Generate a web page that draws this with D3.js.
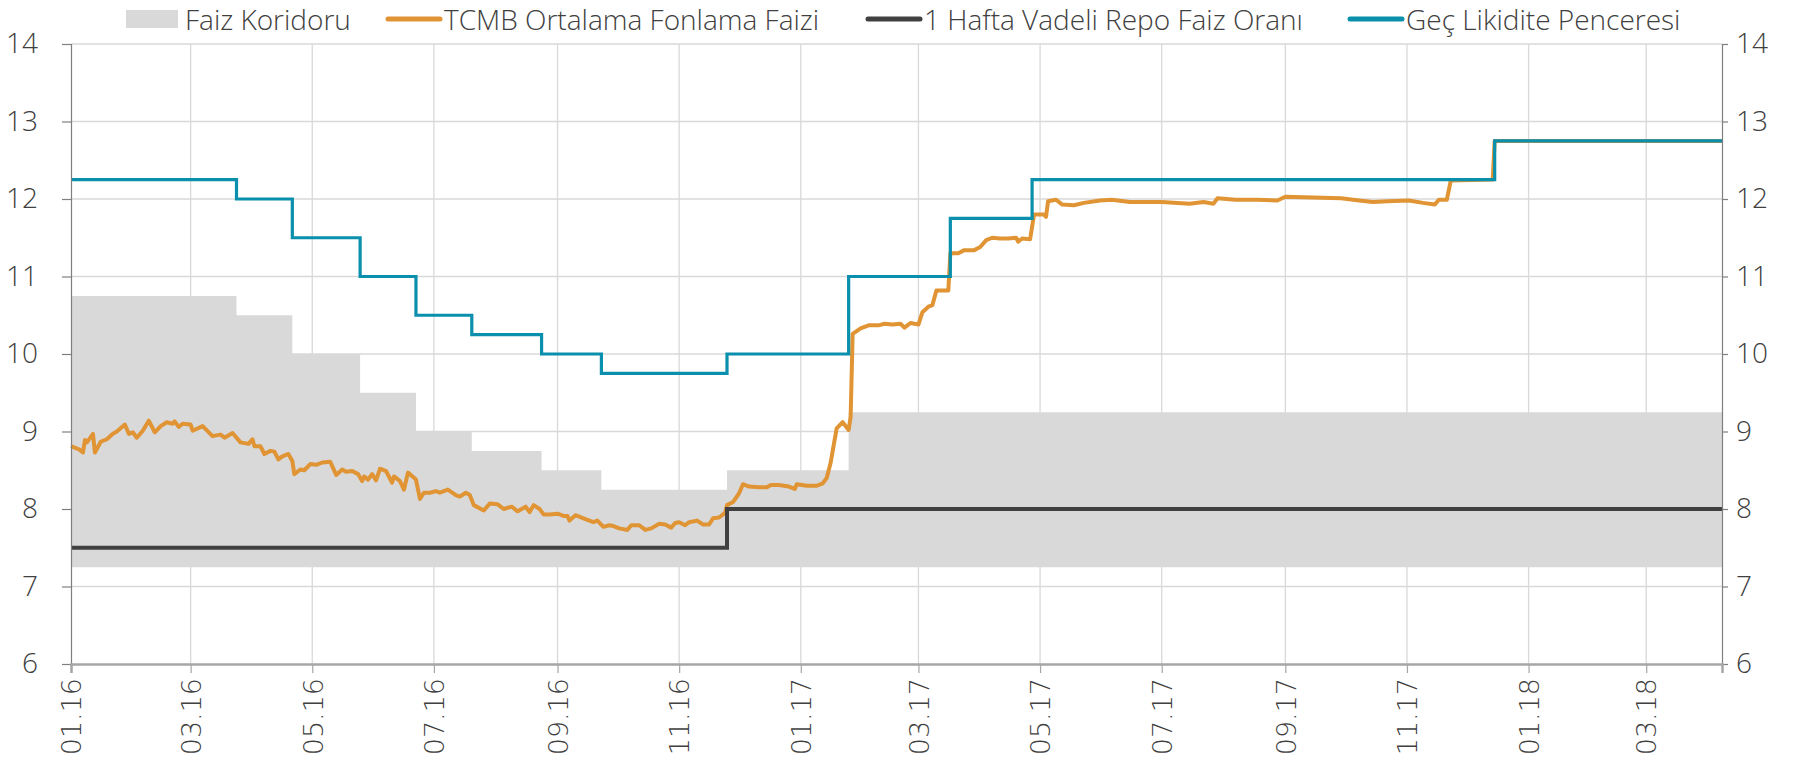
<!DOCTYPE html>
<html>
<meta charset="utf-8">
<style>
  body { margin: 0; background: #fff; }
  .grid line { stroke: #d9d9d9; stroke-width: 1.3; }
  .yaxis text, .legend text { font-family: "Open Sans", sans-serif; font-weight: 300; fill: #404040; }
  .xaxis text { font-family: "DejaVu Sans", sans-serif; font-weight: 200; fill: #404040; }
</style>
<body>
<script src="https://d3js.org/d3.v7.min.js"></script>
<script>
var parseDate = d3.timeParse("%Y-%m-%d");

// PPK karar tarihleri (adim serileri)
var stepDates = ["2016-01-01","2016-03-24","2016-04-21","2016-05-25","2016-06-22","2016-07-20","2016-08-24",
                 "2016-09-23","2016-11-25","2017-01-25","2017-03-17","2017-04-27","2017-12-15","2018-04-08"];
var koridorUst  = [10.75,10.5,10.0,9.5,9.0,8.75,8.5,8.25,8.5,9.25,9.25,9.25,9.25,9.25];
var koridorAlt  = [7.25,7.25,7.25,7.25,7.25,7.25,7.25,7.25,7.25,7.25,7.25,7.25,7.25,7.25];
var repoFaiz    = [7.5,7.5,7.5,7.5,7.5,7.5,7.5,7.5,8.0,8.0,8.0,8.0,8.0,8.0];
var gecLikidite = [12.25,12.0,11.5,11.0,10.5,10.25,10.0,9.75,10.0,11.0,11.75,12.25,12.75,12.75];

// TCMB ortalama fonlama faizi
var fonlama = [
  ["2016-01-01",8.81],["2016-01-05",8.77],["2016-01-07",8.73],["2016-01-08",8.89],["2016-01-09",8.86],["2016-01-12",8.97],
  ["2016-01-13",8.73],["2016-01-16",8.87],["2016-01-19",8.90],["2016-01-22",8.97],["2016-01-24",9.00],["2016-01-28",9.09],
  ["2016-01-30",8.97],["2016-02-01",8.99],["2016-02-03",8.92],["2016-02-06",9.01],["2016-02-09",9.14],["2016-02-12",8.99],
  ["2016-02-15",9.07],["2016-02-18",9.12],["2016-02-21",9.10],["2016-02-22",9.13],["2016-02-24",9.06],["2016-02-26",9.10],
  ["2016-03-01",9.09],["2016-03-02",9.01],["2016-03-07",9.07],["2016-03-12",8.94],["2016-03-16",8.96],["2016-03-18",8.92],
  ["2016-03-22",8.98],["2016-03-26",8.86],["2016-03-30",8.84],["2016-04-01",8.90],["2016-04-02",8.81],["2016-04-05",8.81],
  ["2016-04-07",8.71],["2016-04-10",8.75],["2016-04-12",8.74],["2016-04-14",8.64],["2016-04-16",8.68],["2016-04-19",8.71],
  ["2016-04-21",8.62],["2016-04-22",8.45],["2016-04-25",8.51],["2016-04-27",8.50],["2016-04-30",8.58],["2016-05-03",8.57],
  ["2016-05-06",8.60],["2016-05-10",8.61],["2016-05-13",8.44],["2016-05-16",8.51],["2016-05-18",8.48],["2016-05-21",8.49],
  ["2016-05-24",8.45],["2016-05-26",8.36],["2016-05-27",8.42],["2016-05-29",8.38],["2016-05-31",8.45],["2016-06-02",8.37],
  ["2016-06-04",8.52],["2016-06-07",8.49],["2016-06-10",8.34],["2016-06-11",8.42],["2016-06-14",8.36],["2016-06-16",8.25],
  ["2016-06-18",8.47],["2016-06-22",8.38],["2016-06-24",8.13],["2016-06-26",8.21],["2016-06-29",8.21],["2016-07-02",8.23],
  ["2016-07-04",8.21],["2016-07-08",8.25],["2016-07-12",8.18],["2016-07-14",8.16],["2016-07-17",8.21],["2016-07-19",8.18],
  ["2016-07-21",8.05],["2016-07-26",7.98],["2016-07-29",8.07],["2016-08-02",8.06],["2016-08-05",8.00],["2016-08-09",8.03],
  ["2016-08-12",7.97],["2016-08-16",8.03],["2016-08-18",7.96],["2016-08-20",8.05],["2016-08-23",8.00],["2016-08-25",7.93],
  ["2016-08-28",7.93],["2016-09-01",7.94],["2016-09-04",7.91],["2016-09-06",7.91],["2016-09-07",7.85],["2016-09-10",7.92],
  ["2016-09-14",7.88],["2016-09-19",7.83],["2016-09-21",7.85],["2016-09-24",7.77],["2016-09-27",7.79],["2016-09-29",7.78],
  ["2016-10-02",7.75],["2016-10-06",7.73],["2016-10-08",7.79],["2016-10-12",7.79],["2016-10-15",7.73],["2016-10-18",7.75],
  ["2016-10-22",7.81],["2016-10-25",7.80],["2016-10-28",7.76],["2016-10-30",7.82],["2016-11-01",7.83],["2016-11-04",7.79],
  ["2016-11-06",7.83],["2016-11-10",7.85],["2016-11-13",7.80],["2016-11-16",7.80],["2016-11-18",7.88],["2016-11-21",7.89],
  ["2016-11-24",7.95],["2016-11-25",8.05],["2016-11-28",8.09],["2016-12-01",8.20],["2016-12-03",8.32],["2016-12-06",8.29],
  ["2016-12-11",8.28],["2016-12-15",8.28],["2016-12-17",8.31],["2016-12-21",8.31],["2016-12-26",8.29],["2016-12-29",8.26],
  ["2016-12-30",8.32],["2017-01-04",8.30],["2017-01-09",8.30],["2017-01-12",8.33],["2017-01-14",8.40],["2017-01-16",8.60],
  ["2017-01-17",8.75],["2017-01-19",9.04],["2017-01-22",9.12],["2017-01-25",9.02],["2017-01-26",9.19],["2017-01-27",10.26],
  ["2017-01-31",10.33],["2017-02-04",10.37],["2017-02-09",10.37],["2017-02-12",10.39],["2017-02-16",10.38],["2017-02-20",10.39],
  ["2017-02-22",10.34],["2017-02-25",10.40],["2017-03-01",10.38],["2017-03-03",10.54],["2017-03-06",10.61],["2017-03-08",10.63],
  ["2017-03-10",10.82],["2017-03-13",10.82],["2017-03-16",10.82],["2017-03-17",11.30],["2017-03-21",11.30],["2017-03-24",11.34],
  ["2017-03-29",11.34],["2017-04-01",11.38],["2017-04-04",11.47],["2017-04-07",11.50],["2017-04-11",11.49],["2017-04-15",11.49],
  ["2017-04-19",11.50],["2017-04-20",11.45],["2017-04-22",11.49],["2017-04-26",11.48],["2017-04-28",11.80],["2017-05-03",11.80],
  ["2017-05-04",11.77],["2017-05-05",11.97],["2017-05-09",11.99],["2017-05-12",11.93],["2017-05-18",11.92],["2017-05-23",11.95],
  ["2017-05-31",11.98],["2017-06-06",11.99],["2017-06-15",11.96],["2017-07-01",11.96],["2017-07-15",11.94],["2017-07-22",11.96],
  ["2017-07-27",11.94],["2017-07-29",12.01],["2017-08-07",11.99],["2017-08-18",11.99],["2017-08-28",11.98],["2017-09-01",12.03],
  ["2017-09-15",12.02],["2017-09-29",12.01],["2017-10-08",11.98],["2017-10-15",11.96],["2017-10-22",11.97],["2017-11-02",11.98],
  ["2017-11-09",11.95],["2017-11-15",11.93],["2017-11-17",11.99],["2017-11-21",11.99],["2017-11-23",12.24],["2017-12-14",12.25],
  ["2017-12-15",12.75],["2018-04-08",12.75]
];

var yTicks = [6,7,8,9,10,11,12,13,14];
var legendNames = ["Faiz Koridoru","TCMB Ortalama Fonlama Faizi","1 Hafta Vadeli Repo Faiz Oranı","Geç Likidite Penceresi"];
var legendColors = ["#d9d9d9","#e09434","#404040","#0a8fac"];

var margin = {top: 44, right: 94, bottom: 98, left: 71},
    width = 1816 - margin.left - margin.right,
    height = 762 - margin.top - margin.bottom;

var svg = d3.select("body").append("svg")
    .attr("width", 1816)
    .attr("height", 762);

var g = svg.append("g")
    .attr("transform", "translate(" + margin.left + "," + margin.top + ")");

var x = d3.scaleTime()
    .domain([parseDate("2016-01-01"), parseDate("2018-04-08")])
    .range([0, width]);

var y = d3.scaleLinear()
    .domain([6, 14])
    .range([height, 0]);

var xTicks = d3.timeMonth.every(2).range(parseDate("2016-01-01"), parseDate("2018-04-02"));

var steps = stepDates.map(function(d, i) {
  return {date: parseDate(d), ust: koridorUst[i], alt: koridorAlt[i], repo: repoFaiz[i], gec: gecLikidite[i]};
});
var fon = fonlama.map(function(d) { return {date: parseDate(d[0]), value: d[1]}; });

// grid
var grid = g.append("g").attr("class", "grid");
grid.selectAll(".h").data(yTicks.slice(1)).enter().append("line")
    .attr("x1", 0).attr("x2", width)
    .attr("y1", function(d) { return y(d); }).attr("y2", function(d) { return y(d); });
grid.selectAll(".v").data(xTicks.slice(1)).enter().append("line")
    .attr("y1", 0).attr("y2", height)
    .attr("x1", function(d) { return x(d); }).attr("x2", function(d) { return x(d); });

// faiz koridoru
var area = d3.area()
    .curve(d3.curveStepAfter)
    .x(function(d) { return x(d.date); })
    .y0(function(d) { return y(d.alt); })
    .y1(function(d) { return y(d.ust); });

g.append("path")
    .datum(steps)
    .attr("fill", legendColors[0])
    .attr("d", area);

var fonLine = d3.line()
    .x(function(d) { return x(d.date); })
    .y(function(d) { return y(d.value); });

g.append("path")
    .datum(fon)
    .attr("fill", "none")
    .attr("stroke", legendColors[1])
    .attr("stroke-width", 4)
    .attr("stroke-linejoin", "round")
    .attr("d", fonLine);

var repoLine = d3.line()
    .curve(d3.curveStepAfter)
    .x(function(d) { return x(d.date); })
    .y(function(d) { return y(d.repo); });

g.append("path")
    .datum(steps)
    .attr("fill", "none")
    .attr("stroke", legendColors[2])
    .attr("stroke-width", 4)
    .attr("d", repoLine);

var gecLine = d3.line()
    .curve(d3.curveStepAfter)
    .x(function(d) { return x(d.date); })
    .y(function(d) { return y(d.gec); });

g.append("path")
    .datum(steps)
    .attr("fill", "none")
    .attr("stroke", legendColors[3])
    .attr("stroke-width", 3.2)
    .attr("d", gecLine);

// axes
var yLeft = g.append("g")
    .attr("class", "yaxis")
    .call(d3.axisLeft(y).tickValues(yTicks).tickSize(9).tickPadding(24));
var yRight = g.append("g")
    .attr("class", "yaxis")
    .attr("transform", "translate(" + width + ",0)")
    .call(d3.axisRight(y).tickValues(yTicks).tickSize(6).tickPadding(8));

[yLeft, yRight].forEach(function(a) {
  a.select(".domain").attr("stroke", "#7f7f7f").attr("stroke-width", 1.2);
  a.selectAll(".tick line").attr("stroke", "#7f7f7f").attr("stroke-width", 1.2);
  a.selectAll("text").style("font-size", "28px");
});

var xAxis = g.append("g")
    .attr("class", "xaxis")
    .attr("transform", "translate(0," + height + ")")
    .call(d3.axisBottom(x).tickValues(xTicks).tickFormat(d3.timeFormat("%m.%y")).tickSize(9));

xAxis.select(".domain").attr("stroke", "#a6a6a6").attr("stroke-width", 2.5);
xAxis.selectAll(".tick line").attr("stroke", "#a6a6a6").attr("stroke-width", 1.2);
xAxis.selectAll("text")
    .style("font-size", "27px")
    .attr("transform", "rotate(-90)")
    .attr("text-anchor", "end")
    .attr("x", -14)
    .attr("y", 0)
    .attr("dy", "0.36em");

// legend
var legendX = [126, 386, 866, 1348];
var legend = svg.append("g").attr("class", "legend");
legendNames.forEach(function(name, i) {
  var item = legend.append("g").attr("transform", "translate(" + legendX[i] + ",0)");
  if (i === 0) {
    item.append("rect").attr("x", 0).attr("y", 10).attr("width", 52).attr("height", 18).attr("fill", legendColors[0]);
  } else {
    item.append("line").attr("x1", 2).attr("x2", 54).attr("y1", 19).attr("y2", 19)
        .attr("stroke", legendColors[i]).attr("stroke-width", 5).attr("stroke-linecap", "round");
  }
  item.append("text")
      .attr("x", i === 0 ? 59 : 58)
      .attr("y", 30)
      .style("font-size", "28px")
      .text(name);
});
</script>
</body>
</html>
